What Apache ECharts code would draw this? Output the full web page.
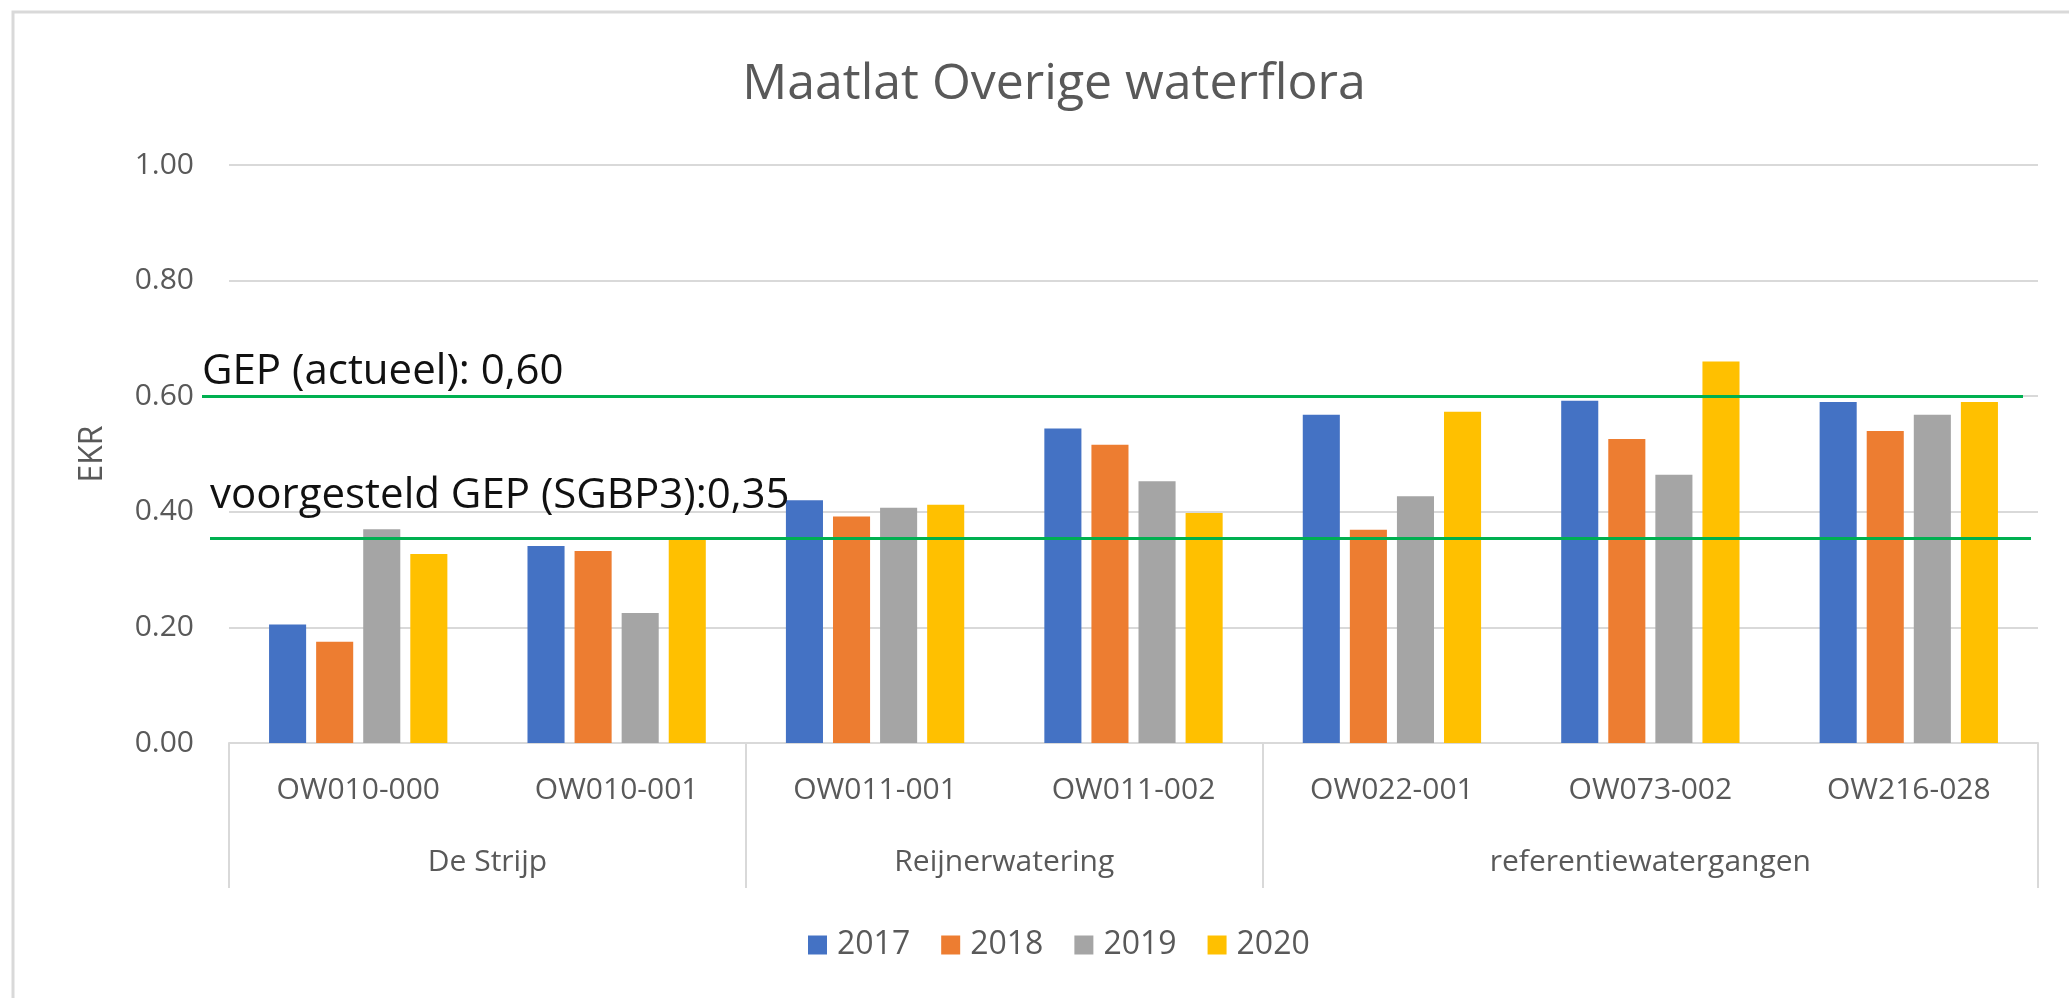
<!DOCTYPE html>
<html>
<head>
<meta charset="utf-8">
<script src="https://cdn.jsdelivr.net/npm/echarts@6/dist/echarts.min.js"></script>
<style>
html,body{margin:0;padding:0;background:#fff;}
#chart{width:2069px;height:998px;}
</style>
</head>
<body>
<div id="chart"></div>
<script>
// ---- data ----
const titleText = 'Maatlat Overige waterflora';
const categories = ['OW010-000','OW010-001','OW011-001','OW011-002','OW022-001','OW073-002','OW216-028'];
const groupNames = ['De Strijp','Reijnerwatering','referentiewatergangen'];
const groupSizes = [2, 2, 3];
const years = ['2017','2018','2019','2020'];
const v2017 = [0.205, 0.341, 0.420, 0.544, 0.568, 0.592, 0.590];
const v2018 = [0.175, 0.332, 0.392, 0.516, 0.369, 0.526, 0.540];
const v2019 = [0.370, 0.225, 0.407, 0.453, 0.427, 0.464, 0.568];
const v2020 = [0.327, 0.353, 0.412, 0.398, 0.573, 0.660, 0.590];
const refValues = [0.60, 0.355];
const refLabels = ['GEP (actueel): 0,60', 'voorgesteld GEP (SGBP3):0,35'];
const yTicks = [0, 0.2, 0.4, 0.6, 0.8, 1.0];
const yName = 'EKR';

// ---- derived ----
const seriesValues = [v2017, v2018, v2019, v2020];
const colors = ['#4472C4', '#ED7D31', '#A5A5A5', '#FFC000'];
const groupBounds = [0];
groupSizes.forEach(s => groupBounds.push(groupBounds[groupBounds.length - 1] + s));
const groupCenters = groupSizes.map((s, i) => groupBounds[i] + s / 2);

const FONT = 'Open Sans';
const TXT = '#595959';

const refStyle = [
  {x0: 202, x1: 2023, dist: [0, 3]},
  {x0: 210, x1: 2031, dist: [0, 21]}
];

const markLineData = refValues.map((v, i) => ([
  {
    xAxis: 0, yAxis: v, x: refStyle[i].x0,
    label: {
      show: true, position: 'insideStartTop', formatter: refLabels[i],
      distance: refStyle[i].dist, fontSize: 42, fontWeight: 'normal', color: '#111', fontFamily: FONT
    }
  },
  {xAxis: categories.length - 1, yAxis: v, x: refStyle[i].x1}
]));

const series = years.map((y, i) => {
  const s = {
    name: y,
    type: 'bar',
    data: seriesValues[i],
    itemStyle: {color: colors[i]},
    barGap: '27%',
    barCategoryGap: '31%',
    xAxisIndex: 0,
    yAxisIndex: 0
  };
  if (i === 0) {
    s.markLine = {
      symbol: ['none', 'none'],
      silent: true,
      animation: false,
      lineStyle: {color: '#00B050', width: 3, type: 'solid'},
      data: markLineData
    };
  }
  return s;
});

const chart = echarts.init(document.getElementById('chart'), null, {renderer: 'canvas'});
chart.setOption({
  animation: false,
  backgroundColor: '#fff',
  textStyle: {fontFamily: FONT},
  title: {
    text: titleText,
    left: 1049,
    textAlign: 'center',
    top: 55,
    textStyle: {fontSize: 50, fontWeight: 'normal', color: TXT, fontFamily: FONT}
  },
  legend: {
    data: years,
    left: 803,
    top: 924,
    icon: 'rect',
    itemWidth: 19,
    itemHeight: 19,
    itemGap: 31,
    textStyle: {fontSize: 32, color: TXT, fontFamily: FONT, padding: [0, 0, 0, 5]}
  },
  grid: {left: 229, right: 31, top: 165, bottom: 255, containLabel: false},
  xAxis: [
    {
      type: 'category',
      data: categories,
      axisLine: {show: true, lineStyle: {color: '#d9d9d9', width: 2}},
      axisTick: {show: false},
      axisLabel: {interval: 0, fontSize: 30, color: TXT, margin: 32, fontFamily: FONT},
      splitLine: {show: false}
    },
    {
      type: 'value',
      min: 0,
      max: categories.length,
      position: 'bottom',
      axisLine: {show: false},
      splitLine: {show: false},
      axisTick: {show: true, customValues: groupBounds, length: 145, lineStyle: {color: '#d9d9d9', width: 2}},
      axisLabel: {
        customValues: groupCenters,
        formatter: function (v) {
          const idx = groupCenters.indexOf(v);
          return idx >= 0 ? groupNames[idx] : '';
        },
        fontSize: 30, color: TXT, margin: 104, fontFamily: FONT
      }
    }
  ],
  yAxis: {
    type: 'value',
    min: yTicks[0],
    max: yTicks[yTicks.length - 1],
    interval: yTicks[1] - yTicks[0],
    name: yName,
    nameLocation: 'middle',
    nameGap: 120,
    nameTextStyle: {fontSize: 32, color: TXT, fontFamily: FONT},
    axisLine: {show: false},
    axisTick: {show: false},
    axisLabel: {formatter: v => v.toFixed(2), fontSize: 30, color: TXT, margin: 35, fontFamily: FONT},
    splitLine: {show: true, lineStyle: {color: '#d9d9d9', width: 2}}
  },
  graphic: [{
    type: 'rect',
    silent: true,
    z: -10,
    shape: {x: 13, y: 12, width: 2200, height: 1100},
    style: {fill: 'none', stroke: '#d9d9d9', lineWidth: 3}
  }],
  series: series
});
</script>
</body>
</html>
